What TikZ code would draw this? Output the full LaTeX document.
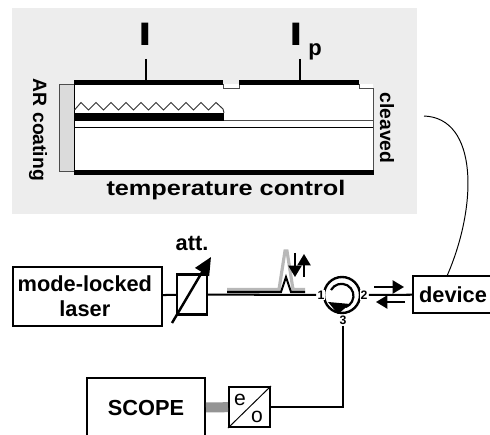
\documentclass[tikz,border=0pt]{standalone}
\usepackage{fontspec}
\setmainfont{Liberation Sans}
\usepackage{tikz}
\usetikzlibrary{arrows.meta}
\definecolor{panelgray}{gray}{0.93}
\definecolor{coatgray}{gray}{0.86}
\definecolor{pulsegray}{gray}{0.72}
\definecolor{busgray}{gray}{0.58}
\tikzset{
	box/.style={draw, line width=1.15pt, inner sep=0pt, align=center, font=\bfseries\fontsize{12.4}{14}\selectfont},
	wire/.style={line width=1.15pt},
	thin wire/.style={line width=.55pt},
	metal/.style={fill=black, draw=none},
	port/.style={fill=white, inner sep=.6pt, font=\bfseries\fontsize{7}{8}\selectfont},
	chip label/.style={font=\bfseries\fontsize{11}{12}\selectfont, inner sep=0pt},
	bias label/.style={inner sep=0pt, transform shape, xscale=1.45, font=\bfseries\fontsize{18.5}{20}\selectfont}
}

\begin{document}
\begin{tikzpicture}[x=.02cm, y=-.02cm, >={Triangle[length=6.5pt,width=7.5pt]}]
		\clip (0,0) rectangle (490,435);
		\fill[white] (0,0) rectangle (490,435);
		\fill[panelgray] (12,8) rectangle (417,214);

		% laser chip
		\filldraw[fill=coatgray, draw=black!70, thin wire] (59.5,84) rectangle (74.5,171);
		\fill[white] (74.5,84) rectangle (373,170);
		\draw[thin wire, black!70] (223,84) -- (223,88) -- (239,88) -- (239,84); \draw[thin wire, black!70] (359,84) -- (359,88) -- (373,88) -- (373,170);
		\draw[thin wire] (74.5,84) -- (74.5,170);
		\draw[thin wire, black!70] (224,120) -- (373,120); \draw[thin wire] (74.5,127.5) -- (373,127.5);
		\draw[thin wire, black!80] (74.5,110) -- (81,102.5) -- (88.5,110) -- (96,102.5) -- (103.5,110) -- (111,102.5) -- (118.5,110) -- (126,102.5) -- (133.5,110) -- (141,102.5) -- (148.5,110) -- (156,102.5) -- (163.5,110) -- (171,102.5) -- (178.5,110) -- (186,102.5) -- (193.5,110) -- (201,102.5) -- (208.5,110) -- (216,102.5) -- (223,109) -- (224,113);
		\fill[metal] (74,113) rectangle (224,121);
		\fill[metal] (74,80) rectangle (223,85); \fill[metal] (239,80) rectangle (359,85);
		\fill[metal] (74,170) rectangle (373.5,175);

		\node[bias label] (igain) at (145,34.5) {I};
		\node[bias label] (iphase) at (296,34.5) {I};
		\node[inner sep=0pt, font=\bfseries\fontsize{12.5}{13}\selectfont] (psub) at (315,51.5) {p};
		\coordinate (igaintop) at (146,59); \coordinate (igainpad) at (146,80); \coordinate (iphasetop) at (300,59); \coordinate (iphasepad) at (300,80);
		\draw[wire] (igaintop) -- (igainpad); \draw[wire] (iphasetop) -- (iphasepad);
		\node[chip label, rotate=-90] (arlabel) at (38,130) {AR coating};
		\node[chip label, rotate=-90] (cleavedlabel) at (387,128) {cleaved};
		\node[chip label, transform shape, xscale=1.2, font=\bfseries\fontsize{12}{13}\selectfont] (templabel) at (226,190) {temperature control};

		% setup
		\node[box, minimum width=2.97cm, minimum height=1.18cm] (laser) at (87.5,296.5) {mode-locked\hspace*{3pt}\\laser\hspace*{3pt}};
		\node[box, minimum width=.6cm, minimum height=.8cm] (att) at (192,294.5) {};
		\node[chip label, font=\bfseries\fontsize{12.4}{14}\selectfont] (attlabel) at (192,244) {att.};
		\coordinate (attstart) at (172,323); \coordinate (attend) at (211,257);
		\draw[-{Triangle[length=10pt,width=9pt]}, line width=1.4pt] (attstart) -- (attend);

		\coordinate (circ) at (342,295);
		\draw[line width=1.35pt] (circ) circle (18);
		\draw[line width=1.25pt] (331,290) arc (209:430:12);
		\fill (328,302) -- (350,304) -- (338,314) -- cycle;
		\node[port] (port1) at (321,295) {1}; \node[port] (port2) at (364,295) {2}; \node[port] (port3) at (343,320) {3};
		\node[box, minimum width=1.6cm, minimum height=.74cm] (device) at (453,294.5) {device};

		\draw[wire] (laser) -- (att); \draw[wire] (att) -- (port1); \draw[wire] (port2) -- (device);

		\coordinate (gray0) at (227,289.5); \coordinate (gray1) at (305,289.5);
		\draw[pulsegray, line width=1.8pt] (gray0) -- (279,289.5) -- (285,251) -- (287,251) -- (293,289.5) -- (gray1);
		\draw[wire] (227,292) -- (281,292) -- (286,277) -- (291,292) -- (305,292);
		\coordinate (dntop) at (295,253); \coordinate (dnbot) at (295,277); \coordinate (upbot) at (304,277); \coordinate (uptop) at (304,254);
		\draw[->, wire] (dntop) -- (dnbot); \draw[->, wire] (upbot) -- (uptop);
		\coordinate (fwdstart) at (374,287); \coordinate (fwdend) at (404,287); \coordinate (bckstart) at (405,302); \coordinate (bckend) at (376,302);
		\draw[->, wire] (fwdstart) -- (fwdend); \draw[->, wire] (bckstart) -- (bckend);

		\node[box, minimum width=2.36cm, minimum height=1.2cm] (scope) at (146,408) {SCOPE};
		\node[box, minimum width=.82cm, minimum height=.8cm] (eo) at (249.5,407) {};
		\draw[thin wire] (eo.south west) -- (eo.north east);
		\node[inner sep=0pt, font=\fontsize{12}{13}\selectfont] (eolabel) at (240,400) {e}; \node[inner sep=0pt, font=\fontsize{12}{13}\selectfont] (oelabel) at (257,417) {o};
		\draw[busgray, line width=5.7pt] (scope) -- (eo);
		\draw[wire] (port3) |- (eo);

		% fibre to chip
		\coordinate (chipend) at (424,116); \coordinate (devtap) at (447,276);
		\draw[thin wire] (chipend) .. controls (478,118) and (478,205) .. (devtap);
	\end{tikzpicture}
\end{document}
